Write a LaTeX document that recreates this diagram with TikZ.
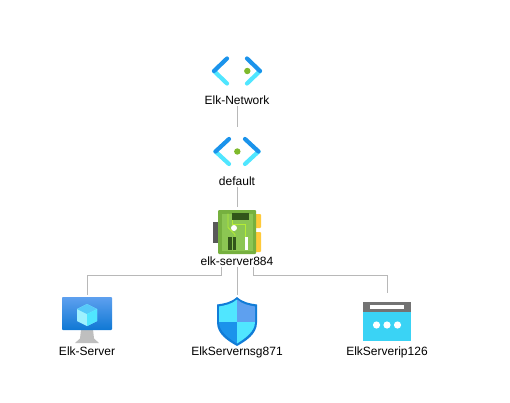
\documentclass[tikz,border=0pt]{standalone}
\usepackage{fontspec}
\setmainfont{Liberation Sans}
\usetikzlibrary{positioning}

\definecolor{azDark}{HTML}{1B93EB}
\definecolor{azLight}{HTML}{50E6FF}
\definecolor{azMid}{HTML}{5EA0EF}
\definecolor{azDeep}{HTML}{0F78D4}
\definecolor{azCyan}{HTML}{3AD3F5}
\definecolor{nicBody}{HTML}{76B03F}
\definecolor{nicInner}{HTML}{8CC653}
\definecolor{nicDark}{HTML}{32561A}
\definecolor{nicTrace}{HTML}{B4EC36}
\definecolor{nicGold}{HTML}{FFCA3A}
\definecolor{dotGreen}{HTML}{7FBA2C}
\definecolor{linkGrey}{HTML}{B8B8B8}

\tikzset{
  icon/.style={inner sep=0pt,outer sep=0pt,minimum width=50pt},
  lbl/.style={inner sep=0pt,outer sep=0pt,font=\fontsize{12}{12}\selectfont,text height=9pt,text depth=1.5pt},
  link/.style={draw=linkGrey,line width=0.9pt}
}

% chevrons: node, tip offset, end offset, dot offset
\newcommand{\chevronpair}[4]{
  \begin{scope}[shift={(#1.center)},line width=4.2pt,line cap=round]
    \draw[azLight] (-#2,0) -- (-#3,12.5);
    \draw[azLight] (#2,0) -- (#3,12.5);
    \draw[azDark] (-#2,0) -- (-#3,-12.5);
    \draw[azDark] (#2,0) -- (#3,-12.5);
    \fill[dotGreen] (#4,0) circle (3.2pt);
  \end{scope}
}

\begin{document}
\begin{tikzpicture}[x=1pt,y=-1pt,node distance=0pt]
    \useasboundingbox (0,0) rectangle (510,403);

    %network row
    \node[icon,minimum height=28pt] (netIcon) at (237,71) {};
    \node[lbl] (netLabel) [below =11pt of netIcon] {Elk-Network};

    %subnet row
    \node[icon,minimum height=49pt] (subIcon) [below =20.5pt of netLabel] {};
    \node[lbl] (subLabel) [below =0.5pt of subIcon] {default};

    %interface row
    \node[icon,minimum height=49pt] (nicIcon) [below =20pt of subLabel] {};
    \node[lbl] (nicLabel) [below =of nicIcon] {elk-server884};

    %attached resources
    \node[icon,minimum height=51pt] (nsgIcon) [below =28.5pt of nicLabel] {};
    \node[lbl] (nsgLabel) [below =of nsgIcon] {ElkServernsg871};
    \node[icon,minimum height=51pt] (vmIcon) [left =100pt of nsgIcon] {};
    \node[lbl] (vmLabel) [below =of vmIcon] {Elk-Server};
    \node[icon,minimum height=51pt] (pipIcon) [right =100pt of nsgIcon] {};
    \node[lbl] (pipLabel) [below =of pipIcon] {ElkServerip126};

    %links
    \path[link] (netLabel) -- (subIcon);
    \path[link] (subLabel) -- (nicIcon);
    \path[link] (nicLabel) -- (nsgIcon);
    \path[link] ([xshift=-16pt]nicLabel.south) -- ++(0,9) -| (vmIcon.north);
    \path[link,shorten >=2pt] ([xshift=16pt]nicLabel.south) -- ++(0,9) -| (pipIcon.north);

    %network glyphs
    \chevronpair{netIcon}{23}{10}{10.3}
    \chevronpair{subIcon}{21.5}{8}{0.3}

    %interface card
    \begin{scope}[shift={(nicIcon.center)}]
      \fill[black!65] (-24,-9.5) rectangle (-18,11.5);
      \fill[nicGold,rounded corners=1pt] (17,-17.5) rectangle (24,-3.5);
      \fill[nicGold,rounded corners=1pt] (17,0.5) rectangle (24,20.5);
      \fill[nicBody,rounded corners=1pt] (-19,-21.5) rectangle (19,22.5);
      \fill[nicInner] (-15,-18) rectangle (16,19);
      \draw[nicTrace,line width=0.8pt] (-9,-18) -- (-9,-4) -- (-2,3) -- (-2,19);
      \draw[nicTrace,line width=0.8pt] (-5,-15) -- (-5,-7) -- (8,-7) -- (8,6);
      \fill[nicDark] (-5,-18.5) rectangle (12,-11.5);
      \fill[white] (-3,-3.5) circle (3pt);
      \fill[nicDark] (-9,5.5) rectangle (-5,18.5);
      \fill[nicDark] (-4,5.5) rectangle (-1,18.5);
      \fill[white] (8,5.5) rectangle (11,18.5);
    \end{scope}

    %virtual machine
    \begin{scope}[shift={(vmIcon.center)}]
      \fill[black!25] (-6,9) -- (6,9) -- (7,18) -- (12,22.5) -- (-12,22.5) -- (-7,18) -- cycle;
      \shade[top color=azMid,bottom color=azDeep,rounded corners=0.8pt] (-25,-23.5) rectangle (25,9.5);
      \fill[azLight!55!white] (0,-16.5) -- (10,-11.5) -- (10,0.5) -- (0,5.5) -- (-10,0.5) -- (-10,-11.5) -- cycle;
      \fill[azLight!60!azMid] (0,-16.5) -- (10,-11.5) -- (0,-6.5) -- (-10,-11.5) -- cycle;
      \fill[azLight] (0,-6.5) -- (10,-11.5) -- (10,0.5) -- (0,5.5) -- cycle;
    \end{scope}

    %security group shield
    \begin{scope}[shift={(nsgIcon.center)}]
      \fill[azDeep!85!azDark] (0,-23.5) .. controls (6,-18) and (13,-17) .. (20,-16) -- (20,2) .. controls (20,14) and (8,21) .. (0,25.5) .. controls (-8,21) and (-20,14) .. (-20,2) -- (-20,-16) .. controls (-13,-17) and (-6,-18) .. (0,-23.5) -- cycle;
      \fill[azLight] (0,-21) .. controls (-5,-16.5) and (-12,-15) .. (-18,-14) -- (-18,1.5) -- (0,1.5) -- cycle;
      \fill[azMid] (0,-21) .. controls (5,-16.5) and (12,-15) .. (18,-14) -- (18,1.5) -- (0,1.5) -- cycle;
      \fill[azDark] (-18,1.5) .. controls (-18,11) and (-8,18) .. (0,23) -- (0,1.5) -- cycle;
      \fill[azLight] (18,1.5) .. controls (18,11) and (8,18) .. (0,23) -- (0,1.5) -- cycle;
    \end{scope}

    %public address
    \begin{scope}[shift={(pipIcon.center)}]
      \fill[azCyan] (-24,-18.5) rectangle (24,20.5);
      \fill[black!55] (-24,-18.5) rectangle (24,-8.5);
      \fill[white] (-17,-15.5) rectangle (17,-11.5);
      \foreach \dotx in {-10.5,0,10.5}
        \fill[white] (\dotx,4.5) circle (3.6pt);
    \end{scope}

\end{tikzpicture}
\end{document}
